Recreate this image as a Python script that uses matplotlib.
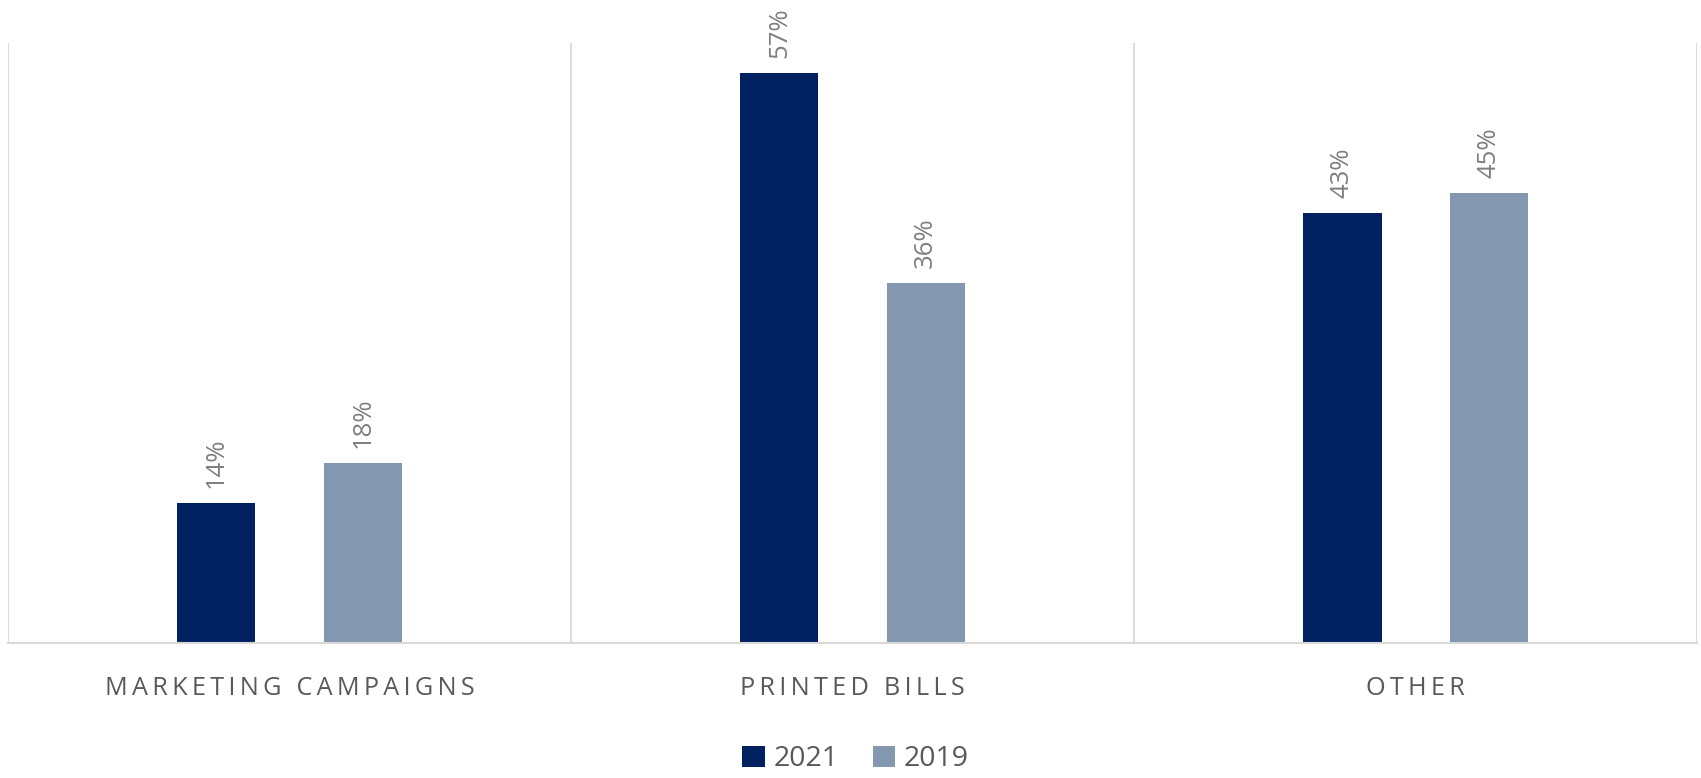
import matplotlib.pyplot as plt
import numpy as np

categories = ['MARKETING CAMPAIGNS', 'PRINTED BILLS', 'OTHER']
series_names = ['2021', '2019']
values_2021 = [14, 57, 43]
values_2019 = [18, 36, 45]
colors = ['#002060', '#8497B0']

plt.rcParams['font.family'] = ['Open Sans', 'DejaVu Sans']

fig = plt.figure(figsize=(17.01, 7.78), dpi=100)
ax = fig.add_axes([0.0047, 0.1735, 0.993, 0.771])

x = np.arange(len(categories))
width = 0.139
offset = 0.13

for vals, name, col, sign in zip([values_2021, values_2019], series_names, colors, [-1, 1]):
    bars = ax.bar(x + sign * offset, vals, width, color=col, label=name)
    for b, v in zip(bars, vals):
        ax.annotate(f'{v}%', (b.get_x() + b.get_width() / 2, v),
                    xytext=(0, 11), textcoords='offset points',
                    rotation=90, ha='center', va='bottom',
                    fontsize=18.5, color='#7f7f7f')

ax.set_xlim(-0.5, 2.5)
ax.set_ylim(0, 60)

# category separators
for xv in [-0.5, 0.5, 1.5, 2.5]:
    ax.axvline(xv, color='#d9d9d9', lw=1.3, zorder=0)

for s in ['top', 'left', 'right']:
    ax.spines[s].set_visible(False)
ax.spines['bottom'].set_color('#d9d9d9')
ax.spines['bottom'].set_linewidth(1.5)

ax.set_yticks([])
ax.set_xticks(x)
ax.set_xticklabels(['\u2009'.join(c) for c in categories], fontsize=18.2, color='#595959')
ax.tick_params(axis='x', length=0, pad=24)

fig.legend(loc='center', bbox_to_anchor=(0.503, 0.024), ncol=2, frameon=False,
           fontsize=20.5, labelcolor='#595959', handlelength=0.8, handleheight=0.8,
           handletextpad=0.3, columnspacing=1.2, borderpad=0.2)

fig.savefig('out.png', dpi=100)
